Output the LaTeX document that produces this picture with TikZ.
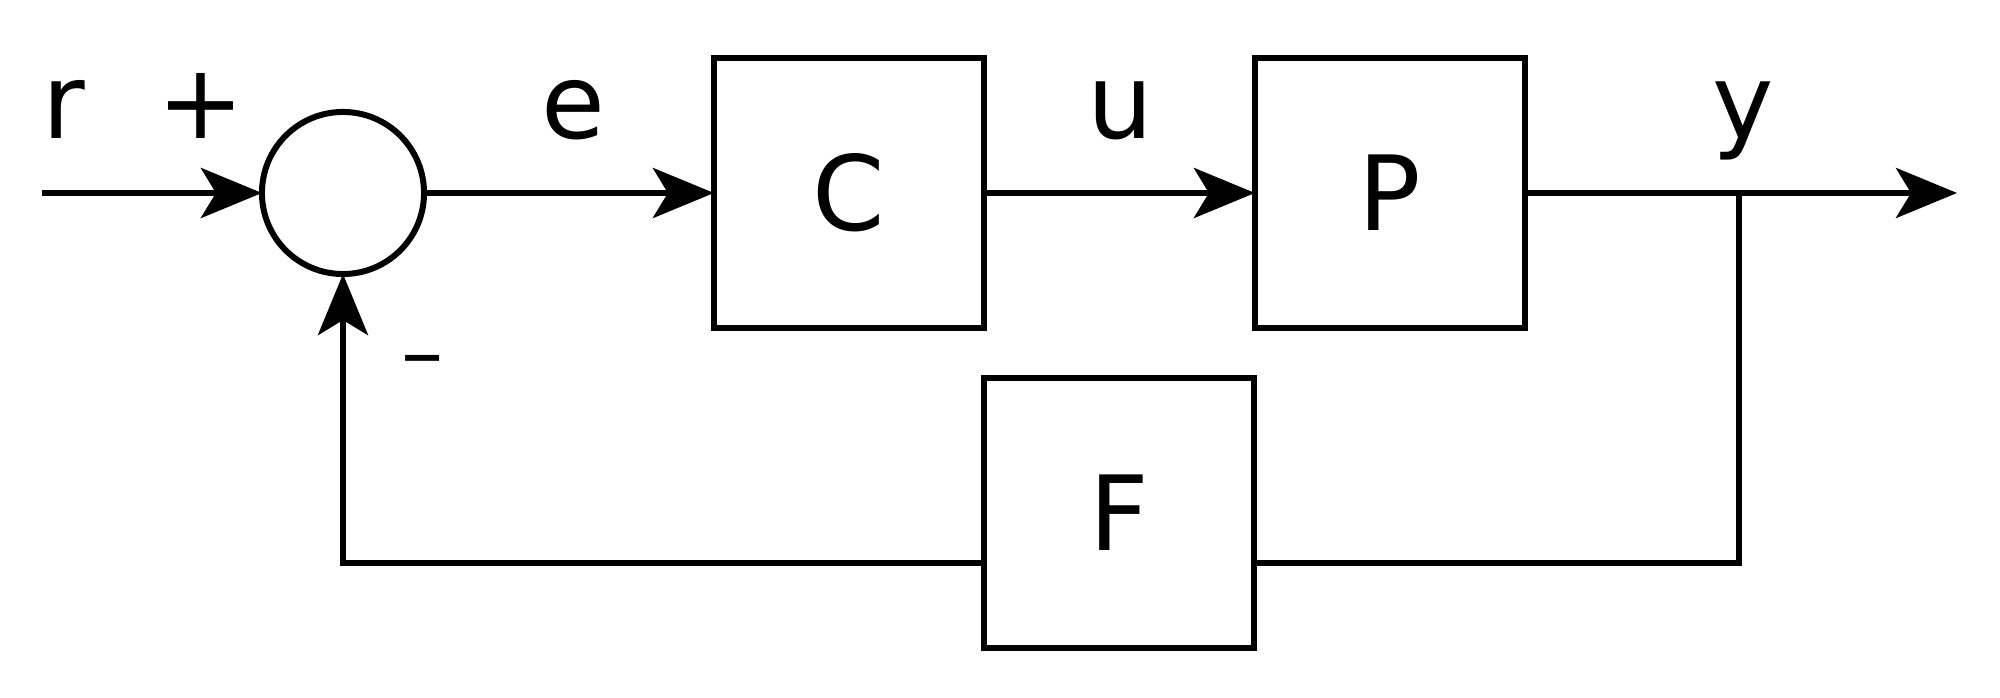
\documentclass[tikz,border=0pt]{standalone}
\usepackage{fontspec}
\setmainfont{DejaVu Sans}
\usetikzlibrary{arrows.meta}
\begin{document}
\begin{tikzpicture}[x=0.01cm, y=-0.01cm, line width=0.06cm,
    every node/.style={font=\fontsize{29.5}{35}\selectfont},
    block/.style={draw, minimum size=2.7cm, inner sep=0pt, outer sep=0pt},
    sumnode/.style={draw, circle, minimum size=1.62cm, inner sep=0pt, outer sep=0pt},
    sig/.style={-{Stealth[length=0.61cm, width=0.5cm, inset=0.15cm]}}]
    \useasboundingbox (0,0) rectangle (2000,698);
    \node[sumnode] (sum) at (343,193) {};
    \node[block] (C) at (849,193) {C};
    \node[block] (P) at (1390,193) {P};
    \node[block] (F) at (1119,513) {F};
    \coordinate (in) at (42,193);
    \coordinate (out) at (1957,193);
    \coordinate (br) at (1739,193);
    \coordinate (fb) at (1739,563);
    \draw[sig] (in) -- (sum.west);
    \draw[sig] (sum.east) -- (C.west);
    \draw[sig] (C.east) -- (P.west);
    \draw[sig] (P.east) -- (out);
    \draw (br) -- (fb) -- (F.east |- fb);
    \draw[sig] (F.west |- fb) -| (sum.south);
    \node[anchor=base] (rlab) at (64,139) {r};
    \node[anchor=base] (plus) at (201,139) {+};
    \node[anchor=base, font=\fontsize{24}{28}\selectfont] (minus) at (423,382) {–};
    \node[anchor=base] (elab) at (573,139) {e};
    \node[anchor=base] (ulab) at (1120,139) {u};
    \node[anchor=base] (ylab) at (1743,139) {y};
\end{tikzpicture}
\end{document}
